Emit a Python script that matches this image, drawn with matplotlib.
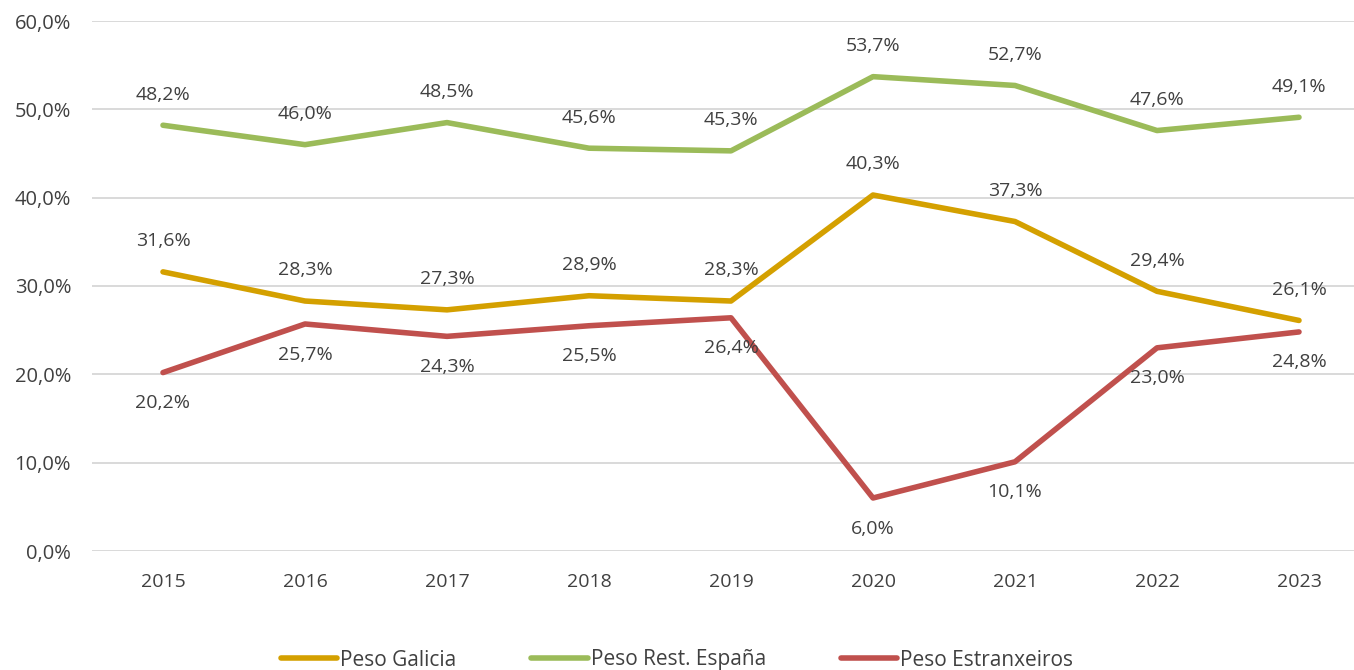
import matplotlib
matplotlib.use("Agg")
import matplotlib.pyplot as plt

years = ["2015", "2016", "2017", "2018", "2019", "2020", "2021", "2022", "2023"]
galicia = [31.6, 28.3, 27.3, 28.9, 28.3, 40.3, 37.3, 29.4, 26.1]
resto_espana = [48.2, 46.0, 48.5, 45.6, 45.3, 53.7, 52.7, 47.6, 49.1]
estranxeiros = [20.2, 25.7, 24.3, 25.5, 26.4, 6.0, 10.1, 23.0, 24.8]

series = [
    ("Peso Galicia", galicia, "#D4A000", 1),
    ("Peso Rest. España", resto_espana, "#9BBB59", 1),
    ("Peso Estranxeiros", estranxeiros, "#C0504D", -1),
]

plt.rcParams['font.family'] = ['Open Sans', 'DejaVu Sans']
txt = "#404040"

fig = plt.figure(figsize=(13.54, 6.7), dpi=100)
W, H = 1354, 670
ax = fig.add_axes([92 / W, (H - 551) / H, (1370 - 92) / W, (551 - 21) / H])

x = list(range(len(years)))
for name, vals, col, side in series:
    ax.plot(x, vals, color=col, lw=4.0, label=name, solid_capstyle="round", solid_joinstyle="round")
    for xi, v in zip(x, vals):
        lab = f"{v:.1f}%".replace(".", ",")
        ax.annotate(lab, (xi, v), xytext=(0, 22 * side), textcoords="offset points",
                    ha="center", va="center", fontsize=14, color=txt)

ax.set_xlim(-0.5, len(years) - 0.5)
ax.set_ylim(0, 60)
ax.set_yticks(range(0, 61, 10))
ax.set_yticklabels([f"{v},0%" for v in range(0, 61, 10)])
ax.set_xticks(x)
ax.set_xticklabels(years)
ax.tick_params(axis="y", length=0, pad=15, labelsize=14.5, labelcolor=txt)
ax.tick_params(axis="x", length=0, pad=16, labelsize=14, labelcolor=txt)
ax.grid(axis="y", color="#D9D9D9", lw=1.4)
ax.set_axisbelow(True)
for s in ax.spines.values():
    s.set_visible(False)

fig.legend(loc="center", bbox_to_anchor=(0.5, 10 / H), ncol=3, frameon=False,
           fontsize=15, labelcolor=txt, handlelength=2.7, handletextpad=0.15,
           columnspacing=3.6)

fig.savefig("out.png", dpi=100)
